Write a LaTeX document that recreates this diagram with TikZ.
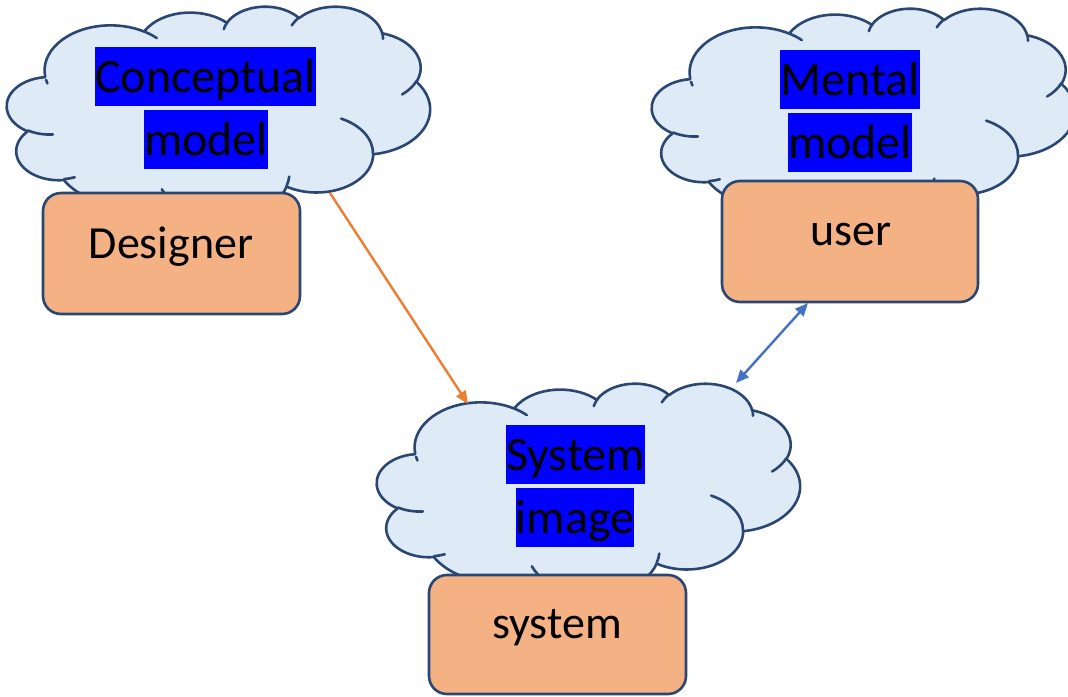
\documentclass[tikz,border=0pt]{standalone}
\usepackage{fontspec}
\setmainfont{Carlito}
\usetikzlibrary{arrows.meta}

\definecolor{cloudfill}{HTML}{DEEBF7}
\definecolor{outline}{HTML}{2A4672}
\definecolor{boxfill}{HTML}{F4B183}
\definecolor{hlblue}{HTML}{0000FF}
\definecolor{arroworange}{HTML}{ED7D31}
\definecolor{arrowblue}{HTML}{4472C4}

% Elliptical arc given as (x radius, y radius, start, sweep) with the
% angles measured as directions from the centre, as in DrawingML arcTo.
\tikzset{
  ooarc/.code n args={4}{%
    \pgfmathsetmacro\ooS{atan2((#1)*sin(#3),(#2)*cos(#3))}%
    \pgfmathsetmacro\ooE{atan2((#1)*sin((#3)+(#4)),(#2)*cos((#3)+(#4)))}%
    \pgfmathsetmacro\ooD{mod(\ooE-\ooS+720,360)}%
    \edef\oonext{\noexpand\tikzset{start angle=\ooS, delta angle=\ooD,
      x radius=#1, y radius=#2}}\oonext
  },
  cloudbody/.style={fill=cloudfill, draw=outline, line width=2.6pt, line join=round},
  cloudcrease/.style={draw=outline, line width=2.6pt, line cap=round},
  modelbox/.style={draw=outline, fill=boxfill, line width=2.6pt, rounded corners=18pt,
    inner sep=0pt},
  hltext/.style={fill=hlblue, inner sep=0pt, text height=45.7pt, text depth=12.9pt,
    font=\fontsize{48}{58}\selectfont, anchor=base},
  boxtext/.style={inner sep=0pt, font=\fontsize{46}{55}\selectfont, anchor=base},
  flow/.style={draw=arroworange, line width=2.4pt, -{Triangle[length=13pt,width=11pt]}},
  exchange/.style={draw=arrowblue, line width=2.4pt,
    {Triangle[length=13pt,width=11pt]}-{Triangle[length=13pt,width=11pt]}}
}

% Cloud drawn in a 4320 x 4320 frame placed at (x0,y0) with size w x h
\newcommand\puffcloud[4]{%
  \pgfmathsetmacro\pcx{#3/4320}%
  \pgfmathsetmacro\pcy{#4/4320}%
  \begin{scope}[shift={(#1,#2)}, x=\pcx pt, y=-\pcy pt]
    \path[cloudbody] (390,1437)
      arc[ooarc={675.3}{919.0}{-190.48748}{123.78053}]
      arc[ooarc={533.3}{726.7}{-144.10238}{89.94523}]
      arc[ooarc={436.5}{594.5}{-145.80792}{99.72302}]
      arc[ooarc={485.7}{659.5}{-130.98607}{117.24173}]
      arc[ooarc={533.3}{727.3}{-78.70888}{109.02692}]
      arc[ooarc={677.5}{922.0}{-46.26725}{130.269}]
      arc[ooarc={578.5}{786.7}{0.62502}{114.03333}]
      arc[ooarc={675.2}{921.5}{22.4516}{115.17255}]
      arc[ooarc={772.0}{1054.3}{66.24263}{75.71102}]
      arc[ooarc={436.0}{591.8}{-274.94208}{146.73557}]
      arc[ooarc={434.5}{594.5}{-246.8285}{152.51885}]
      -- cycle;
    \path[cloudcrease]
      (469.3,2617.7) arc[ooarc={434.5}{594.5}{86.742}{26.4295}]
      (692.8,3489.9) arc[ooarc={436.0}{591.8}{73.61047}{11.44747}]
      (1647.8,3909.0) arc[ooarc={675.2}{921.5}{137.62415}{14.0811}]
      (2882.7,3475.1) arc[ooarc={675.2}{921.5}{6.45327}{15.99835}]
      (3412.9,2295.4) arc[ooarc={578.5}{786.7}{-70.29235}{70.91737}]
      (4179.8,1535.4) arc[ooarc={533.3}{727.3}{30.31803}{27.7515}]
      (3832.4,542.6) arc[ooarc={485.7}{659.5}{-13.74433}{14.8589}]
      (2907.8,395.2) arc[ooarc={485.7}{659.5}{-149.18145}{18.19537}]
      (2214.1,472.0) arc[ooarc={436.5}{594.5}{-163.49427}{17.68635}]
      (1400.0,519.2) arc[ooarc={675.3}{919.0}{-66.70695}{12.31935}]
      (412.7,1578.9) arc[ooarc={675.3}{919.0}{157.20908}{6.22747}];
  \end{scope}}

\begin{document}
\begin{tikzpicture}[x=1pt, y=-1pt]
  \useasboundingbox (0,0) rectangle (1068,696);
  \clip (0,0) rectangle (1068,696);

  % clouds
  \puffcloud{7}{6}{423}{212}
  \puffcloud{652}{8}{423}{212}
  \puffcloud{377}{383}{423}{212}

  % boxes
  \node[modelbox, minimum width=257pt, minimum height=121pt] (designer) at (171.5,253.5) {};
  \node[modelbox, minimum width=256pt, minimum height=121pt] (user) at (850,241.5) {};
  \node[modelbox, minimum width=257pt, minimum height=119pt] (system) at (557.5,634.5) {};

  \node[boxtext] (designerlbl) at (171,258) {Designer};
  \node[boxtext] (userlbl) at (851,245) {user};
  \node[boxtext] (systemlbl) at (557,638) {system};

  % highlighted cloud captions
  \node[hltext] (cm1) at (205.5,92.7) {Conceptual};
  \node[hltext] (cm2) at (206,155.7) {model};
  \node[hltext] (mm1) at (850,95.7) {Mental};
  \node[hltext] (mm2) at (850,158.7) {model};
  \node[hltext] (si1) at (575.5,470.7) {System};
  \node[hltext] (si2) at (575,533.7) {image};

  % connectors
  \coordinate (conceptout) at (330,193);
  \coordinate (imagein) at (468,404);
  \coordinate (userout) at (808,303);
  \coordinate (imagetop) at (736,383);
  \draw[flow] (conceptout) -- (imagein);
  \draw[exchange] (imagetop) -- (userout);
\end{tikzpicture}
\end{document}
